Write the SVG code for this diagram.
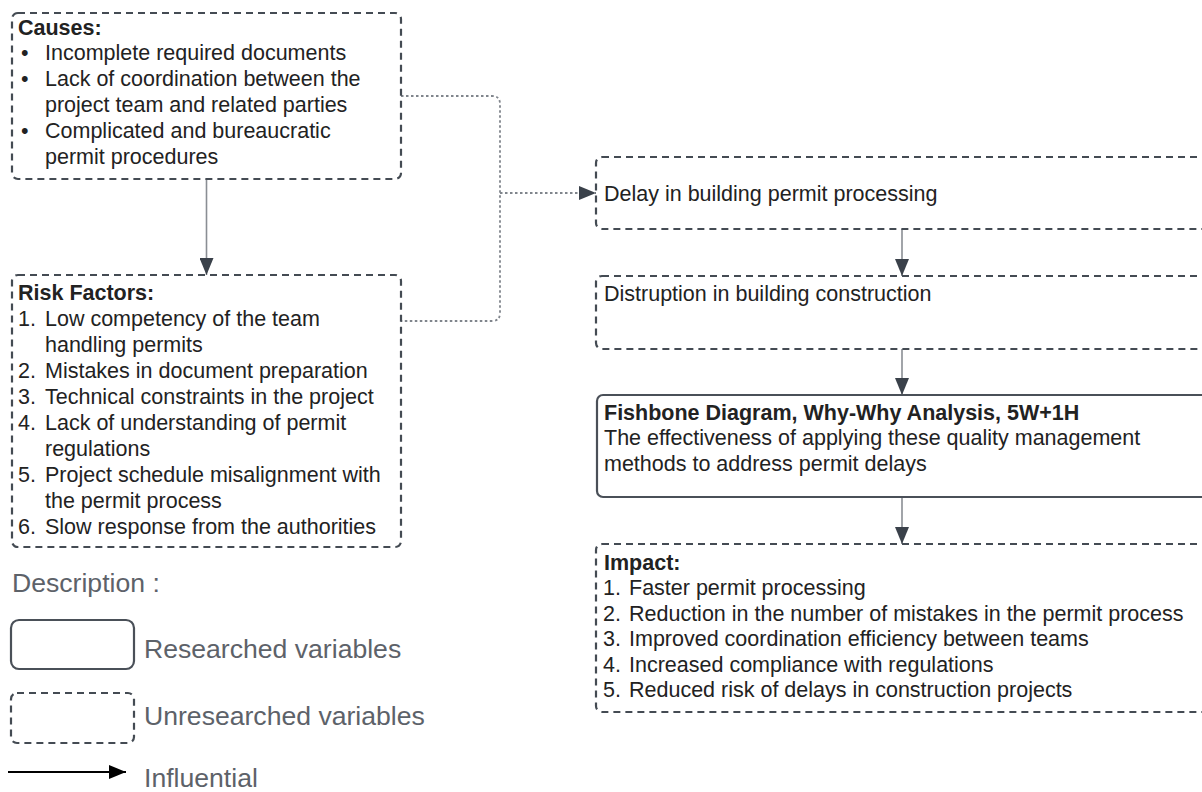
<svg xmlns="http://www.w3.org/2000/svg" width="1202" height="792" viewBox="0 0 1202 792">
<style>
text{font-family:"Liberation Sans",Arial,sans-serif;font-size:21.5px;fill:#222}
.b{font-weight:bold}
.lg{font-size:26.6px;fill:#5d6269}
.dash{fill:#fff;stroke:#444b53;stroke-width:2.2;stroke-dasharray:7 5}
.solid{fill:#fff;stroke:#4a5058;stroke-width:2.2}
.conn{fill:none;stroke:#8a8e94;stroke-width:1.6}
.dot{fill:none;stroke:#80858c;stroke-width:1.8;stroke-dasharray:2.5 2.5}
</style>
<defs>
<marker id="ah" markerUnits="userSpaceOnUse" markerWidth="17" markerHeight="14" refX="17" refY="7" orient="auto">
<path d="M0,0 L17,7 L0,14 z" fill="#3a414a"/>
</marker>
<marker id="ahb" markerUnits="userSpaceOnUse" markerWidth="17" markerHeight="14" refX="17" refY="7" orient="auto">
<path d="M0,0 L17,7 L0,14 z" fill="#000"/>
</marker>
</defs>

<g id="connectors">
<line class="conn" x1="206.5" y1="179" x2="206.5" y2="275" marker-end="url(#ah)"/>
<line class="conn" x1="902" y1="229" x2="902" y2="276" marker-end="url(#ah)"/>
<line class="conn" x1="902" y1="349" x2="902" y2="395" marker-end="url(#ah)"/>
<line class="conn" x1="902" y1="497" x2="902" y2="544" marker-end="url(#ah)"/>
<path class="dot" d="M401,96 H492 Q500,96 500,104 V313 Q500,321 492,321 H401"/>
<path class="dot" d="M500,193 H596" marker-end="url(#ah)"/>
</g>

<g id="causes">
<rect class="dash" x="12" y="13" width="389" height="166" rx="6"/>
<text x="18" y="34.5" class="b">Causes:</text>
<text x="21" y="60.3">•</text><text x="45" y="60.3">Incomplete required documents</text>
<text x="21" y="86.1">•</text><text x="45" y="86.1">Lack of coordination between the</text>
<text x="45" y="111.9">project team and related parties</text>
<text x="21" y="137.7">•</text><text x="45" y="137.7">Complicated and bureaucratic</text>
<text x="45" y="163.5">permit procedures</text>
</g>

<g id="risk-factors">
<rect class="dash" x="12" y="275" width="389" height="272" rx="6"/>
<text x="18" y="300" class="b">Risk Factors:</text>
<text x="18" y="326">1.</text><text x="45" y="326">Low competency of the team</text>
<text x="45" y="352">handling permits</text>
<text x="18" y="378">2.</text><text x="45" y="378">Mistakes in document preparation</text>
<text x="18" y="404">3.</text><text x="45" y="404">Technical constraints in the project</text>
<text x="18" y="430">4.</text><text x="45" y="430">Lack of understanding of permit</text>
<text x="45" y="456">regulations</text>
<text x="18" y="482">5.</text><text x="45" y="482">Project schedule misalignment with</text>
<text x="45" y="508">the permit process</text>
<text x="18" y="534">6.</text><text x="45" y="534">Slow response from the authorities</text>
</g>

<g id="delay">
<rect class="dash" x="596" y="157" width="612" height="72" rx="6"/>
<text x="604" y="200.5">Delay in building permit processing</text>
</g>

<g id="disruption">
<rect class="dash" x="596" y="276" width="612" height="73" rx="6"/>
<text x="604" y="300.5">Distruption in building construction</text>
</g>

<g id="fishbone">
<rect class="solid" x="597" y="395" width="611" height="102" rx="6"/>
<text x="604" y="419.5" class="b">Fishbone Diagram, Why-Why Analysis, 5W+1H</text>
<text x="604" y="445">The effectiveness of applying these quality management</text>
<text x="604" y="470.5">methods to address permit delays</text>
</g>

<g id="impact">
<rect class="dash" x="596" y="544" width="612" height="168" rx="6"/>
<text x="604" y="569.5" class="b">Impact:</text>
<text x="603" y="595">1.</text><text x="629" y="595">Faster permit processing</text>
<text x="603" y="620.6">2.</text><text x="629" y="620.6">Reduction in the number of mistakes in the permit process</text>
<text x="603" y="646.2">3.</text><text x="629" y="646.2">Improved coordination efficiency between teams</text>
<text x="603" y="671.8">4.</text><text x="629" y="671.8">Increased compliance with regulations</text>
<text x="603" y="697.4">5.</text><text x="629" y="697.4">Reduced risk of delays in construction projects</text>
</g>

<g id="legend">
<text x="12" y="592" class="lg">Description :</text>
<rect class="solid" x="11" y="620" width="123" height="49" rx="8"/>
<text x="144" y="657.5" class="lg">Researched variables</text>
<rect class="dash" x="11" y="693" width="123" height="50" rx="6"/>
<text x="144" y="724.5" class="lg">Unresearched variables</text>
<line x1="8" y1="772" x2="126" y2="772" stroke="#000" stroke-width="2" marker-end="url(#ahb)"/>
<text x="144" y="787" class="lg">Influential</text>
</g>
</svg>
